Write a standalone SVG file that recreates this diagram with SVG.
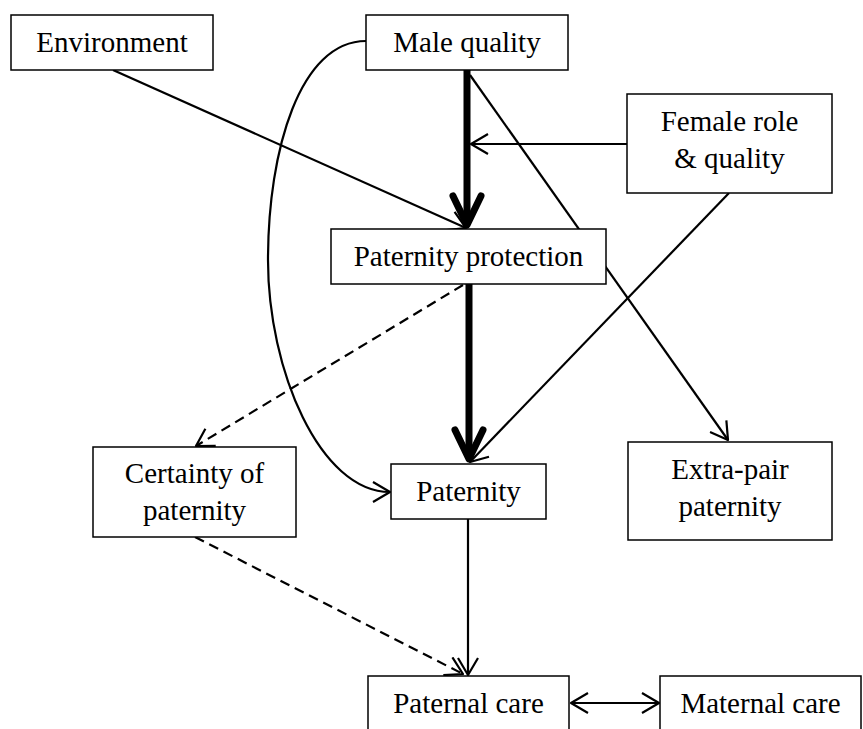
<svg xmlns="http://www.w3.org/2000/svg" width="863" height="729" viewBox="0 0 863 729">
<style>
.box{fill:#fff;stroke:#000;stroke-width:1.5}
text{font-family:'Liberation Serif',Tinos,'Times New Roman','DejaVu Serif',serif;font-size:29px;fill:#000;text-anchor:middle}
.c{fill:none;stroke:#000;stroke-width:2.2}
.d{fill:none;stroke:#000;stroke-width:2.2;stroke-dasharray:10,6}
.k{fill:none;stroke:#000;stroke-width:7}
</style>
<defs>
<marker id="a" markerUnits="userSpaceOnUse" viewBox="0 0 20 22" refX="18" refY="11" markerWidth="20" markerHeight="22" orient="auto-start-reverse">
<path d="M1,1 L18,11 L1,21" fill="none" stroke="#000" stroke-width="2.2" stroke-linejoin="round"/>
</marker>
<marker id="b" markerUnits="userSpaceOnUse" viewBox="-4 -4 40 40" refX="31" refY="16" markerWidth="40" markerHeight="40" orient="auto">
<path d="M2,2 L31,16 L2,30" fill="none" stroke="#000" stroke-width="7" stroke-linecap="round" stroke-linejoin="round"/>
</marker>
</defs>
<g id="connectors">
<path class="k" d="M467,70 L467,225" marker-end="url(#b)"/>
<path class="k" d="M469,284 L469,459" marker-end="url(#b)"/>
<path class="c" d="M113,70 L466,228" marker-end="url(#a)"/>
<path class="c" d="M627,144 L471,144" marker-end="url(#a)"/>
<path class="c" d="M470,75 L728,440" marker-end="url(#a)"/>
<path class="c" d="M729,193 L470,462" marker-end="url(#a)"/>
<path class="c" d="M366,41 C300,41 268,150 268,260 C268,370 320,492 390,492" marker-end="url(#a)"/>
<path class="d" d="M463,285 L196,446" marker-end="url(#a)"/>
<path class="d" d="M195,537 L463,674" marker-end="url(#a)"/>
<path class="c" d="M468,519 L468,675" marker-end="url(#a)"/>
<path class="c" d="M571,703 L659,703" marker-start="url(#a)" marker-end="url(#a)"/>
</g>
<g id="environment"><rect class="box" x="11" y="15" width="202" height="55"/><text x="112" y="52">Environment</text></g>
<g id="male-quality"><rect class="box" x="366" y="15" width="202" height="55"/><text x="467" y="52">Male quality</text></g>
<g id="female-role"><rect class="box" x="627" y="94" width="205" height="99"/><text x="729.5" y="131">Female role</text><text x="729.5" y="168">&amp; quality</text></g>
<g id="paternity-protection"><rect class="box" x="331" y="229" width="275" height="55"/><text x="468.5" y="266">Paternity protection</text></g>
<g id="certainty"><rect class="box" x="93" y="447" width="203" height="90"/><text x="194.5" y="483">Certainty of</text><text x="194.5" y="520">paternity</text></g>
<g id="paternity"><rect class="box" x="391" y="464" width="155" height="55"/><text x="468.5" y="501">Paternity</text></g>
<g id="extra-pair"><rect class="box" x="628" y="442" width="204" height="98"/><text x="730" y="479">Extra-pair</text><text x="730" y="516">paternity</text></g>
<g id="paternal-care"><rect class="box" x="368" y="676" width="201" height="60"/><text x="468.5" y="713">Paternal care</text></g>
<g id="maternal-care"><rect class="box" x="660" y="676" width="201" height="60"/><text x="760.5" y="713">Maternal care</text></g>
</svg>
